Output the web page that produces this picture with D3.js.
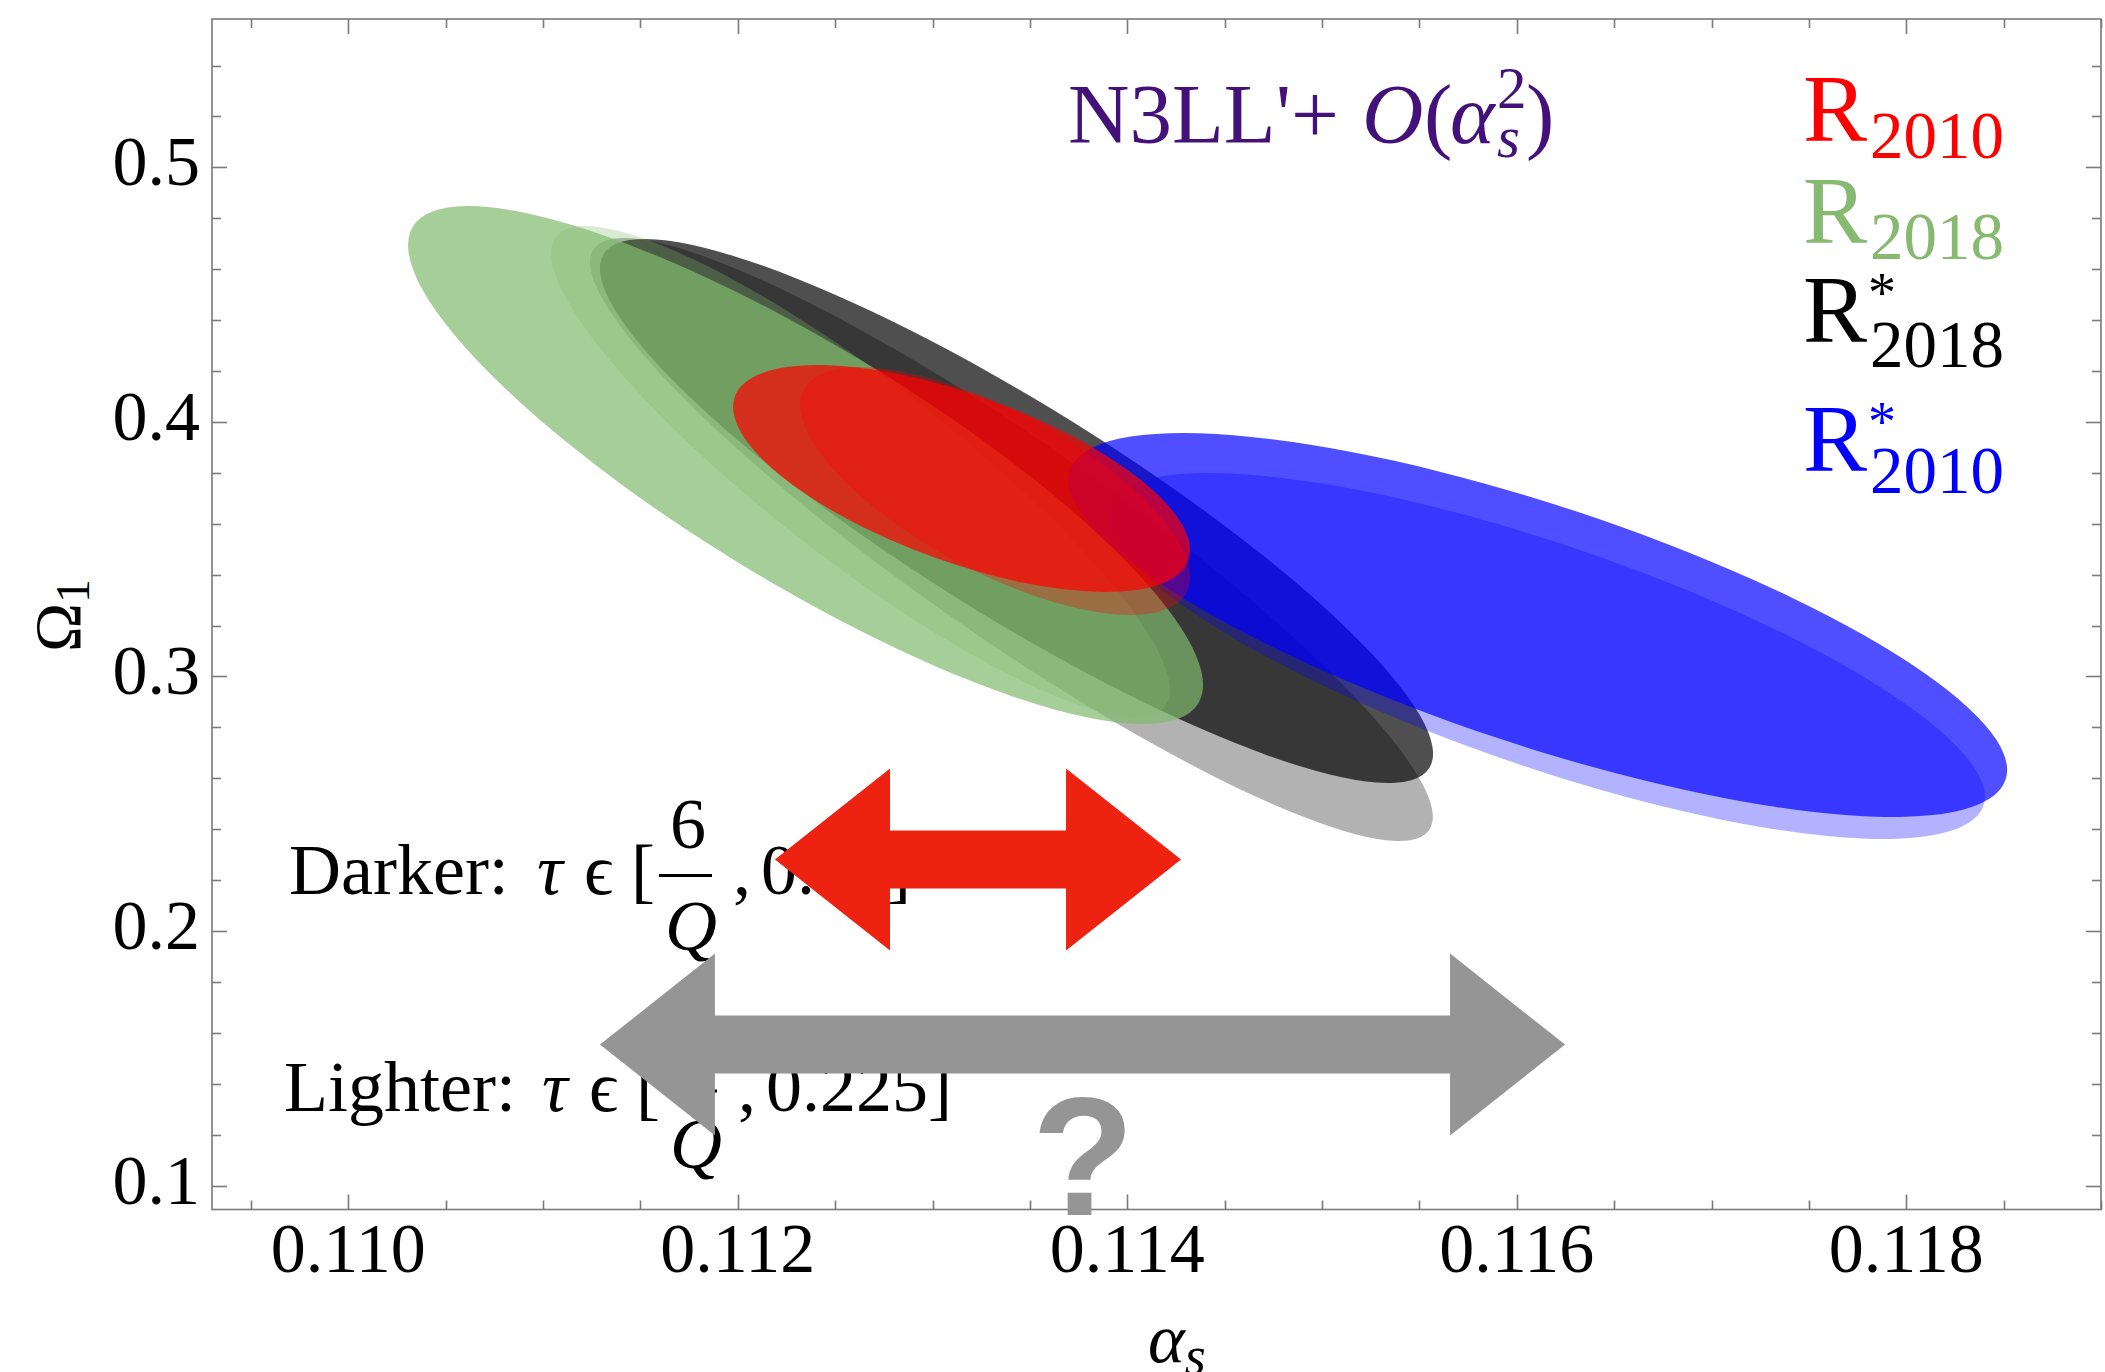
<!DOCTYPE html>
<html>
<head>
<meta charset="utf-8">
<script src="https://cdn.jsdelivr.net/npm/d3@7"></script>
<style>
  html, body { margin: 0; padding: 0; background: #fff; }
  svg { display: block; font-family: 'Liberation Serif', 'Times New Roman', 'DejaVu Serif', serif; }
</style>
</head>
<body>
<div id="chart"></div>
<script>
const WIDTH = 2105
const HEIGHT = 1372
const MARGIN = { top: 19, right: 4, bottom: 162.5, left: 212 }

const X_DOMAIN = [0.1093, 0.1190]
const Y_DOMAIN = [0.0906, 0.5583]
const X_TICKS = [0.110, 0.112, 0.114, 0.116, 0.118]
const X_TICK_LABELS = ['0.110', '0.112', '0.114', '0.116', '0.118']
const Y_TICKS = [0.1, 0.2, 0.3, 0.4, 0.5]
const Y_TICK_LABELS = ['0.1', '0.2', '0.3', '0.4', '0.5']

// error ellipses, in drawing order: centre, half-widths and correlation
const FIT_NAMES   = ['R*2018 lighter', 'R*2018 darker', 'R2018 lighter', 'R2018 darker',
                     'R*2010 lighter', 'R*2010 darker', 'R2010 lighter', 'R2010 darker']
const FIT_COLORS  = ['#000000', '#000000', '#80b96c', '#80b96c', '#0000ff', '#0000ff', '#ff0000', '#ff0000']
const FIT_OPACITY = [0.3, 0.69, 0.3, 0.7, 0.3, 0.69, 0.3, 0.7]
const CENTER_AS   = [0.113405, 0.113431, 0.112630, 0.112348, 0.116150, 0.116107, 0.113321, 0.113149]
const CENTER_OM   = [0.35381, 0.36501, 0.38053, 0.38309, 0.30805, 0.32023, 0.37287, 0.37778]
const SIGMA_AS    = [0.002164, 0.002139, 0.001589, 0.002041, 0.002254, 0.002411, 0.001001, 0.001173]
const SIGMA_OM    = [0.11845, 0.10686, 0.09645, 0.10175, 0.07189, 0.07543, 0.04871, 0.04459]
const RHO         = [-0.920, -0.892, -0.890, -0.849, -0.768, -0.755, -0.694, -0.630]

// double-headed arrows
const ARROW_FROM  = [0.112191, 0.111292]
const ARROW_TO    = [0.114276, 0.116248]
const ARROW_OM    = [0.2281, 0.15538]
const ARROW_COLOR = ['#ee2211', '#959595']

const LEGEND_SUB    = ['2010', '2018', '2018', '2010']
const LEGEND_STAR   = [false, false, true, true]
const LEGEND_COLORS = ['#ff0000', '#85ba70', '#000000', '#0000ff']

const svg = d3.select('#chart')
  .append('svg')
    .attr('width', WIDTH)
    .attr('height', HEIGHT)

const x = d3.scaleLinear()
  .domain(X_DOMAIN)
  .range([MARGIN.left, WIDTH - MARGIN.right])

const y = d3.scaleLinear()
  .domain(Y_DOMAIN)
  .range([HEIGHT - MARGIN.bottom, MARGIN.top])

const x0 = x.range()[0], x1 = x.range()[1]
const y0 = y.range()[0], y1 = y.range()[1]

// ellipses: convert data covariance into pixel space, then to rx/ry/angle
const kx = (x(1) - x(0)), ky = (y(1) - y(0))
const fits = FIT_NAMES.map((name, i) => {
  let sxx = Math.pow(SIGMA_AS[i] * kx, 2)
  let syy = Math.pow(SIGMA_OM[i] * ky, 2)
  let sxy = RHO[i] * SIGMA_AS[i] * SIGMA_OM[i] * kx * ky
  let m = (sxx + syy) / 2
  let d = Math.sqrt(Math.pow((sxx - syy) / 2, 2) + sxy * sxy)
  return {
    name: name,
    cx: x(CENTER_AS[i]),
    cy: y(CENTER_OM[i]),
    rx: Math.sqrt(m + d),
    ry: Math.sqrt(Math.max(m - d, 0)),
    angle: 0.5 * Math.atan2(2 * sxy, sxx - syy) * 180 / Math.PI,
    color: FIT_COLORS[i],
    opacity: FIT_OPACITY[i]
  }
})

// text under the arrows
const txt = svg.append('g')
  .attr('font-size', 72)
  .attr('fill', '#000')

function label(g, px, py, str, opts) {
  opts = opts || {}
  return g.append('text')
    .attr('x', px)
    .attr('y', py)
    .attr('font-style', opts.italic ? 'italic' : null)
    .attr('font-size', opts.size || null)
    .text(str)
}

function rangeLabel(g, base, hx, head, tx, num, fracY, qY, upper) {
  label(g, hx, base, head)
  label(g, tx, base, 'τ', { italic: true })
  label(g, tx + 47, base, 'ϵ')
  label(g, tx + 94, base, '[')
  label(g, tx + 133, fracY - 28, num)
  g.append('line')
    .attr('x1', tx + 122).attr('x2', tx + 175)
    .attr('y1', fracY).attr('y2', fracY)
    .attr('stroke', '#000').attr('stroke-width', 3)
  label(g, tx + 128, qY, 'Q', { italic: true })
  label(g, tx + 196, base, ',')
  label(g, tx + 224, base, upper)
}

rangeLabel(txt, 894, 289, 'Darker:', 537, '6', 875.5, 950, '0.33]')
rangeLabel(txt, 1110.5, 284, 'Lighter:', 542, '2', 1091, 1168, '0.225]')

// ellipses
svg.append('g')
    .attr('class', 'fits')
  .selectAll('ellipse')
    .data(fits)
  .enter().append('ellipse')
    .attr('cx', 0)
    .attr('cy', 0)
    .attr('rx', (d) => d.rx)
    .attr('ry', (d) => d.ry)
    .attr('transform', (d) => 'translate(' + [d.cx, d.cy] + ') rotate(' + d.angle + ')')
    .attr('fill', (d) => d.color)
    .attr('fill-opacity', (d) => d.opacity)

// arrows
const HEAD_LEN = 115, HEAD_HALF = 91, SHAFT_HALF = 29
svg.append('g')
  .selectAll('path')
    .data(ARROW_FROM.map((v, i) => ({ a: x(v), b: x(ARROW_TO[i]), c: y(ARROW_OM[i]), color: ARROW_COLOR[i] })))
  .enter().append('path')
    .attr('fill', (d) => d.color)
    .attr('d', (d) => {
      let p = d3.path()
      p.moveTo(d.a, d.c)
      p.lineTo(d.a + HEAD_LEN, d.c - HEAD_HALF)
      p.lineTo(d.a + HEAD_LEN, d.c - SHAFT_HALF)
      p.lineTo(d.b - HEAD_LEN, d.c - SHAFT_HALF)
      p.lineTo(d.b - HEAD_LEN, d.c - HEAD_HALF)
      p.lineTo(d.b, d.c)
      p.lineTo(d.b - HEAD_LEN, d.c + HEAD_HALF)
      p.lineTo(d.b - HEAD_LEN, d.c + SHAFT_HALF)
      p.lineTo(d.a + HEAD_LEN, d.c + SHAFT_HALF)
      p.lineTo(d.a + HEAD_LEN, d.c + HEAD_HALF)
      p.closePath()
      return p.toString()
    })

// frame and ticks
const frame = svg.append('g')
  .attr('stroke', '#7a7a7a')
  .attr('stroke-width', 1.6)
  .attr('fill', 'none')

frame.append('rect')
  .attr('x', x0).attr('y', y1)
  .attr('width', x1 - x0).attr('height', y0 - y1)

const xMinor = d3.range(0, 20).map((i) => 0.1095 + i * 0.0005)
  .filter((v) => v <= X_DOMAIN[1] + 1e-9 && !X_TICKS.some((t) => Math.abs(t - v) < 1e-7))
const yMinor = d3.range(0, 23).map((i) => 0.1 + i * 0.02)
  .filter((v) => v < Y_DOMAIN[1] && !Y_TICKS.some((t) => Math.abs(t - v) < 1e-7))

const xt = X_TICKS.map((v) => ({ v: v, len: 15 })).concat(xMinor.map((v) => ({ v: v, len: 9 })))
const yt = Y_TICKS.map((v) => ({ v: v, len: 15 })).concat(yMinor.map((v) => ({ v: v, len: 9 })))

xt.forEach((t) => {
  let px = Math.round(x(t.v)) + 0.5
  frame.append('line').attr('x1', px).attr('x2', px).attr('y1', y0).attr('y2', y0 - t.len)
  frame.append('line').attr('x1', px).attr('x2', px).attr('y1', y1).attr('y2', y1 + t.len)
})
yt.forEach((t) => {
  let py = Math.round(y(t.v)) + 0.5
  frame.append('line').attr('x1', x0).attr('x2', x0 + t.len).attr('y1', py).attr('y2', py)
  frame.append('line').attr('x1', x1).attr('x2', x1 - t.len).attr('y1', py).attr('y2', py)
})

// tick labels
svg.append('g')
    .attr('font-size', 70)
    .attr('text-anchor', 'middle')
  .selectAll('text')
    .data(X_TICKS)
  .enter().append('text')
    .attr('x', (d) => x(d))
    .attr('y', y0 + 62)
    .text((d, i) => X_TICK_LABELS[i])

svg.append('g')
    .attr('font-size', 70)
    .attr('text-anchor', 'end')
  .selectAll('text')
    .data(Y_TICKS)
  .enter().append('text')
    .attr('x', x0 - 12)
    .attr('y', (d) => y(d) + 18)
    .text((d, i) => Y_TICK_LABELS[i])

// axis titles
const xt_title = svg.append('text')
  .attr('x', 1148)
  .attr('y', 1362)
  .attr('font-size', 70)
  .attr('font-style', 'italic')
xt_title.append('tspan').text('α')
xt_title.append('tspan').attr('font-size', 54).attr('dy', 12).text('s')

const yt_title = svg.append('text')
  .attr('transform', 'translate(80,652) rotate(-90)')
  .attr('font-size', 66)
yt_title.append('tspan').text('Ω')
yt_title.append('tspan').attr('font-size', 48).attr('dy', 9).text('1')

// order label
const order = svg.append('g')
  .attr('fill', '#44117a')
label(order, 1068, 143, "N3LL'+", { size: 85 })
label(order, 1362, 143, 'O', { size: 85, italic: true })
label(order, 1424, 143, '(', { size: 85 })
label(order, 1450, 143, 'α', { size: 85, italic: true })
label(order, 1497, 108, '2', { size: 59 })
label(order, 1497, 157, 's', { size: 59, italic: true })
label(order, 1526, 143, ')', { size: 85 })

// legend
const LEGEND_BASE = [141, 242.5, 342, 470.6]
const LEGEND_SUB_Y = [157.5, 259, 367, 493.4]
const legend = svg.append('g')
LEGEND_SUB.forEach((s, i) => {
  let g = legend.append('g').attr('fill', LEGEND_COLORS[i])
  label(g, 1803, LEGEND_BASE[i], 'R', { size: 96 })
  label(g, 1870, LEGEND_SUB_Y[i], s, { size: 67 })
  if (LEGEND_STAR[i]) label(g, 1868, LEGEND_BASE[i] - 30, '*', { size: 56 })
})

// question mark
svg.append('text')
  .attr('x', 1083)
  .attr('y', 1215)
  .attr('text-anchor', 'middle')
  .attr('font-family', "'Liberation Sans', Arial, sans-serif")
  .attr('font-weight', 'bold')
  .attr('font-size', 168)
  .attr('fill', '#959595')
  .text('?')
</script>
</body>
</html>
